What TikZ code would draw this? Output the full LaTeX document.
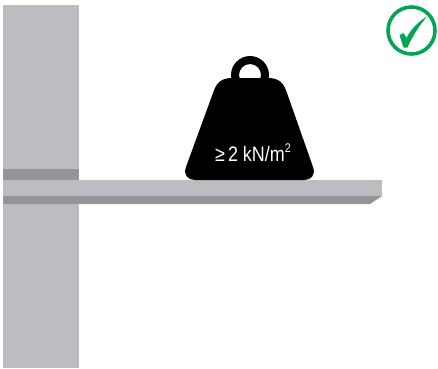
\documentclass[tikz,border=0pt]{standalone}
\usepackage{fontspec}
\setmainfont{Liberation Sans}
\definecolor{concrete}{HTML}{BCBDC0}
\definecolor{darkband}{HTML}{939598}
\definecolor{okgreen}{HTML}{00A651}
\begin{document}
\begin{tikzpicture}[x=1bp,y=-1bp]
\useasboundingbox (0,0) rectangle (438,368);
\fill[concrete] (3,5) rectangle (79,368);
\fill[darkband] (3,169) rectangle (79,180);
\fill[concrete] (3,180) rectangle (382,196);
\fill[darkband] (3,196) -- (382,196) -- (370,204) -- (3,204) -- cycle;
% weight
\fill[black,even odd rule] (250,75) circle[radius=19] (250,75) circle[radius=11];
\fill[black] (232,78) -- (268,78) .. controls (280,78) and (284,84) .. (287,93)
  -- (313,167) .. controls (316,175) and (311,180) .. (304,180)
  -- (195,180) .. controls (188,180) and (183,175) .. (186,167)
  -- (213,93) .. controls (216,84) and (220,78) .. (232,78) -- cycle;
\node[text=white,inner sep=0pt,anchor=base,font=\fontsize{20}{20}\selectfont,xscale=0.9,yscale=1.05] (load) at (253,161) {≥\,2 kN/m\raisebox{0.42em}{\fontsize{12}{12}\selectfont 2}};
% check
\draw[okgreen,line width=3.6bp] (411.5,30.5) circle[radius=23.5];
\fill[okgreen] (399.5,35) -- (403.5,33) -- (406.5,38) .. controls (411,29) and (418,22) .. (427,16.5)
  .. controls (419,26) and (412.5,36) .. (407.5,47.5) -- (403.5,47.5) -- cycle;
\end{tikzpicture}
\end{document}
